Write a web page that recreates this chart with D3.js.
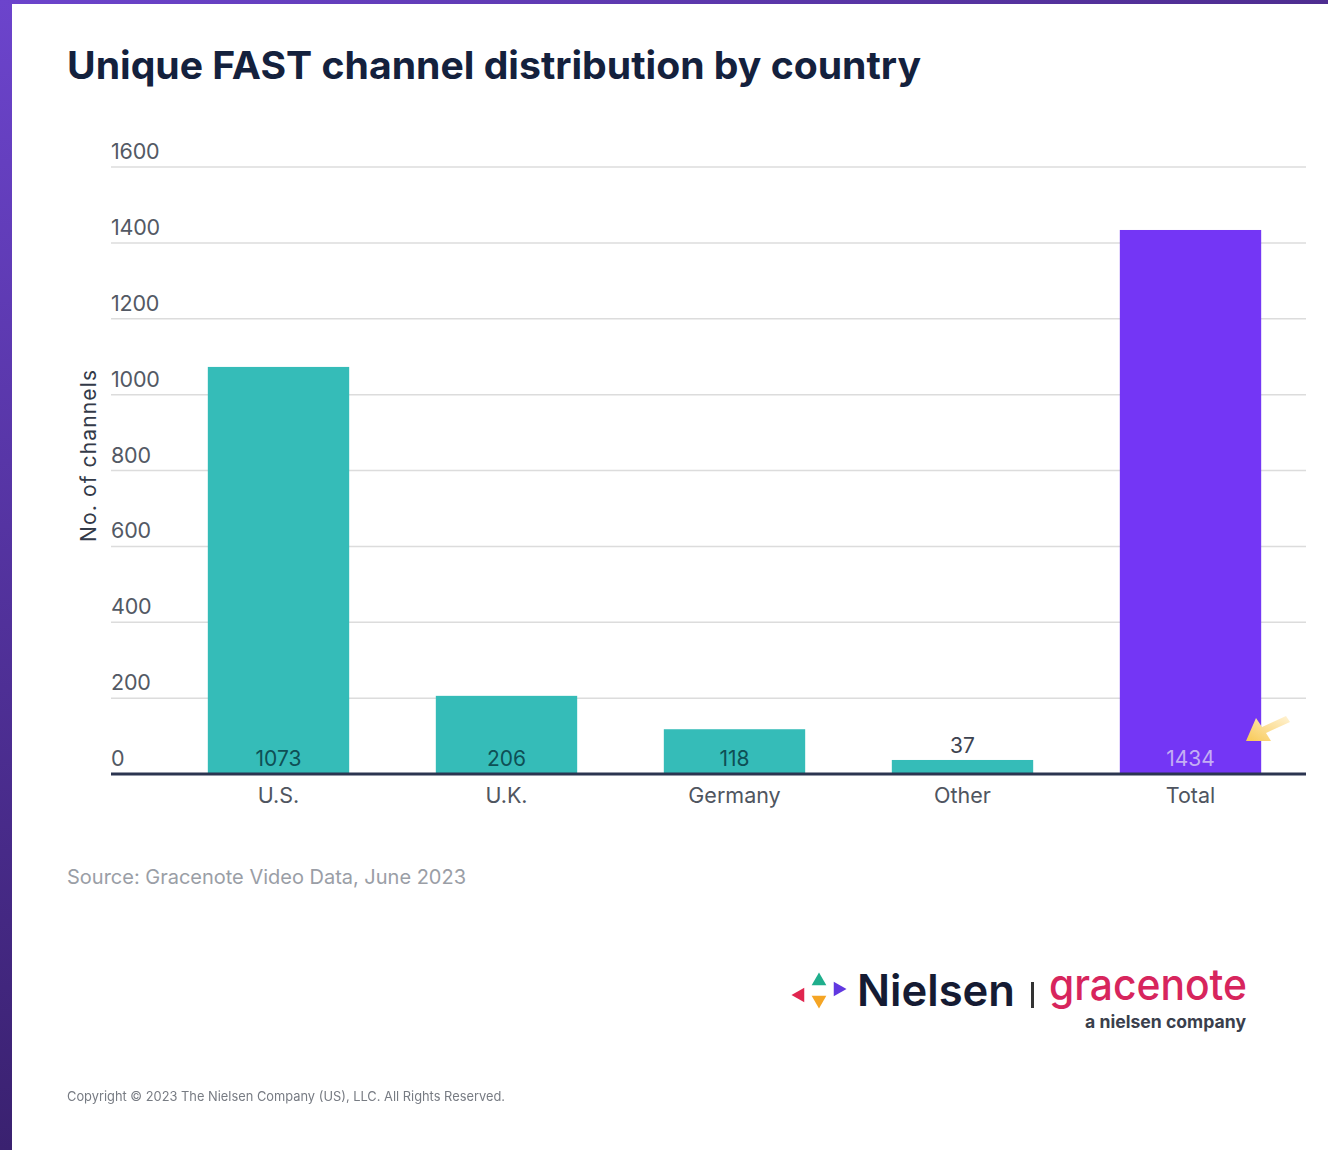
<!DOCTYPE html>
<html>
<head>
<meta charset="utf-8">
<script src="https://cdn.jsdelivr.net/npm/d3@7"></script>
<style>
  html, body { margin: 0; padding: 0; background: #fff; }
  svg { display: block; }
  text { font-family: Inter, "Noto Sans", "DejaVu Sans", sans-serif; }
</style>
</head>
<body>
<svg id="chart" width="1328" height="1150"></svg>
<script>
// Unique FAST channels per country, June 2023
const categories = ["U.S.", "U.K.", "Germany", "Other", "Total"];
const channels = [1073, 206, 118, 37, 1434];
const yTicks = [0, 200, 400, 600, 800, 1000, 1200, 1400, 1600];

const W = 1328, H = 1150;
const svg = d3.select("#chart");

// frame: purple gradient strips on the left and top edge
const defs = svg.append("defs");
const sideGrad = defs.append("linearGradient").attr("id", "sideGrad")
  .attr("x1", 0).attr("y1", 0).attr("x2", 0).attr("y2", 1);
sideGrad.append("stop").attr("offset", "0%").attr("stop-color", "#6c44cc");
sideGrad.append("stop").attr("offset", "100%").attr("stop-color", "#3a2170");
const topGrad = defs.append("linearGradient").attr("id", "topGrad")
  .attr("x1", 0).attr("y1", 0).attr("x2", 1).attr("y2", 0);
topGrad.append("stop").attr("offset", "0%").attr("stop-color", "#6c44cc");
topGrad.append("stop").attr("offset", "100%").attr("stop-color", "#4e2d90");
const arrowGrad = defs.append("linearGradient").attr("id", "arrowGrad")
  .attr("x1", 1).attr("y1", 0).attr("x2", 0).attr("y2", 1);
arrowGrad.append("stop").attr("offset", "0%").attr("stop-color", "#fff3d6");
arrowGrad.append("stop").attr("offset", "100%").attr("stop-color", "#f8c955");
const blur = defs.append("filter").attr("id", "soft");
blur.append("feGaussianBlur").attr("stdDeviation", 0.6);

svg.append("rect").attr("width", W).attr("height", H).attr("fill", "#fff");
svg.append("rect").attr("x", 0).attr("y", 0).attr("width", 12).attr("height", H).attr("fill", "url(#sideGrad)");
svg.append("rect").attr("x", 0).attr("y", 0).attr("width", W).attr("height", 4).attr("fill", "url(#topGrad)");

// title
svg.append("text")
  .attr("x", 67).attr("y", 79)
  .attr("font-size", 38).attr("font-weight", 700)
  .attr("fill", "#14213d")
  .attr("textLength", 854).attr("lengthAdjust", "spacingAndGlyphs")
  .text("Unique FAST channel distribution by country");

// scales
const x = d3.scaleBand()
  .domain(categories)
  .range([164.5, 1304.5])
  .paddingInner(0.38)
  .paddingOuter(0.19);
const y = d3.scaleLinear().domain([0, 1600]).range([774, 167]);

const gridLeft = 111, gridRight = 1306;

// gridlines with labels sitting above each line
const grid = svg.append("g");
grid.selectAll("line.grid")
  .data(yTicks.filter(d => d > 0))
  .join("line")
  .attr("class", "grid")
  .attr("x1", gridLeft).attr("x2", gridRight)
  .attr("y1", d => y(d)).attr("y2", d => y(d))
  .attr("stroke", "#dcdcdc").attr("stroke-width", 1.5);
grid.selectAll("text")
  .data(yTicks)
  .join("text")
  .attr("x", gridLeft).attr("y", d => y(d) - 8)
  .attr("font-size", 21.5).attr("fill", "#535964")
  .attr("letter-spacing", -0.2)
  .text(d => d);

// y axis title
svg.append("text")
  .attr("transform", "translate(96,456) rotate(-90)")
  .attr("text-anchor", "middle")
  .attr("font-size", 21).attr("fill", "#333a48")
  .attr("textLength", 172).attr("lengthAdjust", "spacing")
  .text("No. of channels");

// bars
const colors = d => d === "Total" ? "#7436f5" : "#35bcb8";
svg.append("g").selectAll("rect")
  .data(categories.map((c, i) => ({ c, v: channels[i] })))
  .join("rect")
  .attr("x", d => x(d.c))
  .attr("width", x.bandwidth())
  .attr("y", d => y(d.v))
  .attr("height", d => y(0) - y(d.v))
  .attr("fill", d => colors(d.c));

// value labels: inside the bar foot, above the bar when it is too short
svg.append("g").selectAll("text")
  .data(categories.map((c, i) => ({ c, v: channels[i] })))
  .join("text")
  .attr("x", d => x(d.c) + x.bandwidth() / 2)
  .attr("y", d => (y(0) - y(d.v) > 30) ? y(0) - 8 : y(d.v) - 7)
  .attr("text-anchor", "middle")
  .attr("font-size", 21)
  .attr("fill", d => d.c === "Total" ? "#c4aef4" : (y(0) - y(d.v) > 30 ? "#0e4f55" : "#3d4350"))
  .text(d => d.v);

// baseline
svg.append("line")
  .attr("x1", gridLeft).attr("x2", gridRight)
  .attr("y1", y(0)).attr("y2", y(0))
  .attr("stroke", "#2b3550").attr("stroke-width", 3);

// category axis
const xAxis = svg.append("g")
  .attr("transform", `translate(0,${y(0)})`)
  .call(d3.axisBottom(x).tickSize(0).tickPadding(14));
xAxis.select(".domain").remove();
xAxis.selectAll("text")
  .attr("font-size", 21.5).attr("fill", "#4f5560")
  .attr("font-family", "Inter, 'Noto Sans', sans-serif");

// highlight arrow pointing at the total bar
svg.append("path")
  .attr("d", "M1246,741 L1256,718 L1262,727 L1286,716 L1290,722 L1266,733 L1271,741 Z")
  .attr("fill", "url(#arrowGrad)")
  .attr("filter", "url(#soft)");

// source note
svg.append("text")
  .attr("x", 67).attr("y", 884)
  .attr("font-size", 20).attr("fill", "#9a9ea6")
  .attr("textLength", 399).attr("lengthAdjust", "spacing")
  .text("Source: Gracenote Video Data, June 2023");

// Nielsen | gracenote logo
const logo = svg.append("g");
const tri = (cx, cy, r, angle) => {
  const pts = [0, 120, 240].map(a => {
    const t = (a + angle) * Math.PI / 180;
    return [cx + r * Math.cos(t), cy + r * Math.sin(t)];
  });
  return "M" + pts.map(p => p.join(",")).join("L") + "Z";
};
logo.append("path").attr("d", tri(800, 995, 8.5, 180)).attr("fill", "#e0264f");
logo.append("path").attr("d", tri(819, 981, 8.5, -90)).attr("fill", "#1fae8c");
logo.append("path").attr("d", tri(838, 989, 8.5, 0)).attr("fill", "#6138e0");
logo.append("path").attr("d", tri(819, 1000, 8.5, 90)).attr("fill", "#f5a524");
logo.append("text")
  .attr("x", 857).attr("y", 1006)
  .attr("font-size", 44).attr("font-weight", 600)
  .attr("fill", "#151b33")
  .attr("textLength", 158).attr("lengthAdjust", "spacingAndGlyphs")
  .text("Nielsen");
logo.append("rect").attr("x", 1031).attr("y", 982).attr("width", 3).attr("height", 26).attr("fill", "#333");
logo.append("text")
  .attr("x", 1049).attr("y", 1000)
  .attr("font-size", 43).attr("font-weight", 500)
  .attr("fill", "#d7255d")
  .attr("textLength", 198).attr("lengthAdjust", "spacingAndGlyphs")
  .text("gracenote");
logo.append("text")
  .attr("x", 1246).attr("y", 1028)
  .attr("text-anchor", "end")
  .attr("font-size", 17.5).attr("font-weight", 700)
  .attr("fill", "#3a3f4c")
  .attr("textLength", 161).attr("lengthAdjust", "spacingAndGlyphs")
  .text("a nielsen company");

// copyright
svg.append("text")
  .attr("x", 67).attr("y", 1101)
  .attr("font-size", 13).attr("fill", "#777b83")
  .attr("filter", "url(#soft)")
  .attr("textLength", 438).attr("lengthAdjust", "spacingAndGlyphs")
  .text("Copyright © 2023 The Nielsen Company (US), LLC. All Rights Reserved.");
</script>
</body>
</html>
